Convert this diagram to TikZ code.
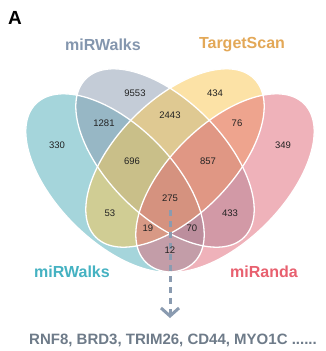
\documentclass[tikz,border=0pt]{standalone}
\usepackage{fontspec}
\setmainfont{Liberation Sans}
\usetikzlibrary{arrows.meta}
\definecolor{setA}{RGB}{77,173,185}
\definecolor{setB}{RGB}{139,155,177}
\definecolor{setC}{RGB}{251,199,79}
\definecolor{setD}{RGB}{225,103,119}
\definecolor{numcol}{RGB}{34,34,34}
\definecolor{labB}{RGB}{132,150,174}
\definecolor{labC}{RGB}{227,168,87}
\definecolor{labA}{RGB}{69,178,194}
\definecolor{labD}{RGB}{232,96,111}
\definecolor{genecol}{RGB}{110,123,137}
\definecolor{arrcol}{RGB}{138,155,176}
\begin{document}
\begin{tikzpicture}[x=1pt,y=-1pt,
  num/.style={font=\fontsize{9.5}{10}\selectfont, text=numcol, inner sep=0pt},
  setlab/.style={font=\fontsize{16}{16}\selectfont\bfseries, inner sep=0pt},
  setfill/.style={fill opacity=0.5},
  setline/.style={draw=white, line width=1.3pt}]
\useasboundingbox (0,0) rectangle (325,351);
\fill[white] (0,0) rectangle (325,351);
\coordinate (oA) at (115,183);
\coordinate (oB) at (165,158);
\coordinate (oC) at (175,158);
\coordinate (oD) at (225,183);
% fills
\fill[setA, setfill, rotate around={-45:(oA)}] (oA) ellipse [x radius=112, y radius=58];
\fill[setB, setfill, rotate around={-45:(oB)}] (oB) ellipse [x radius=112, y radius=58];
\fill[setC, setfill, rotate around={45:(oC)}] (oC) ellipse [x radius=112, y radius=58];
\fill[setD, setfill, rotate around={45:(oD)}] (oD) ellipse [x radius=112, y radius=58];
% outlines
\draw[setline, rotate around={-45:(oA)}] (oA) ellipse [x radius=112, y radius=58];
\draw[setline, rotate around={-45:(oB)}] (oB) ellipse [x radius=112, y radius=58];
\draw[setline, rotate around={45:(oC)}] (oC) ellipse [x radius=112, y radius=58];
\draw[setline, rotate around={45:(oD)}] (oD) ellipse [x radius=112, y radius=58];
% panel letter
\node[font=\fontsize{19}{19}\selectfont\bfseries, inner sep=0pt] (panel) at (15,18) {A};
% set labels
\node[setlab, text=labB] (labTL) at (103,45) {miRWalks};
\node[setlab, text=labC] (labTR) at (242,45) {TargetScan};
\node[setlab, text=labA] (labBL) at (72,272) {miRWalks};
\node[setlab, text=labD] (labBR) at (264,272) {miRanda};
% genes
\node[font=\fontsize{15}{15}\selectfont\bfseries, text=genecol, inner sep=0pt] (genes) at (173,340) {RNF8, BRD3, TRIM26, CD44, MYO1C ......};
% arrow
\coordinate (astart) at (170,210);
\coordinate (aend) at (170,318);
\draw[arrcol, line width=3pt, dash pattern=on 6pt off 5pt, -{Straight Barb[length=8pt,width=18pt]}] (astart) -- (aend);
% numbers
\node[num] (n330) at (57,145) {330};
\node[num] (n9553) at (135,93) {9553};
\node[num] (n434) at (215,93) {434};
\node[num] (n349) at (283,145) {349};
\node[num] (n1281) at (104,123) {1281};
\node[num] (n2443) at (170,115) {2443};
\node[num] (n76) at (237,123) {76};
\node[num] (n696) at (132,161) {696};
\node[num] (n857) at (208,161) {857};
\node[num] (n53) at (110,213) {53};
\node[num] (n433) at (230,213) {433};
\node[num] (n275) at (170,198) {275};
\node[num] (n19) at (148,228) {19};
\node[num] (n70) at (192,228) {70};
\node[num] (n12) at (170,250) {12};
\end{tikzpicture}
\end{document}
